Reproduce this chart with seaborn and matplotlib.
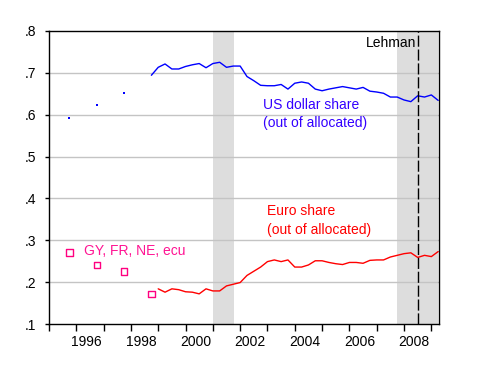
#!/usr/bin/env python3
"""Reserve currency shares: US dollar vs euro (out of allocated reserves)."""

import matplotlib
matplotlib.use("Agg")
import matplotlib.pyplot as plt
import numpy as np
import pandas as pd
import seaborn as sns

# annual observations before the quarterly series starts
ANNUAL_YEARS = [1995, 1996, 1997, 1998]
USD_ANNUAL = [0.592, 0.622, 0.652]
LEGACY_EURO_ANNUAL = [0.271, 0.241, 0.225, 0.172]  # GY, FR, NE, ecu

# quarterly series
USD_START = (1998, 4)
USD_Q = [
    0.694,
    0.713, 0.721, 0.709, 0.709,
    0.715, 0.719, 0.722, 0.712,
    0.722, 0.725, 0.713, 0.716,
    0.716, 0.691, 0.681, 0.670,
    0.669, 0.669, 0.672, 0.661,
    0.675, 0.678, 0.675, 0.661,
    0.657, 0.661, 0.664, 0.667,
    0.664, 0.661, 0.665, 0.656,
    0.654, 0.651, 0.642, 0.642,
    0.635, 0.631, 0.645, 0.642,
    0.647, 0.634,
]
EUR_START = (1999, 1)
EUR_Q = [
    0.184, 0.176, 0.184, 0.182,
    0.177, 0.176, 0.172, 0.184,
    0.179, 0.179, 0.191, 0.195,
    0.199, 0.216, 0.226, 0.236,
    0.249, 0.253, 0.249, 0.253,
    0.236, 0.236, 0.241, 0.251,
    0.251, 0.247, 0.244, 0.242,
    0.247, 0.247, 0.245, 0.252,
    0.253, 0.253, 0.260, 0.264,
    0.268, 0.270, 0.259, 0.264,
    0.261, 0.273,
]

RECESSIONS = [(2001.0, 2001.76), (2007.73, 2009.25)]
LEHMAN = 2008.5
Y_TICKS = [0.1, 0.2, 0.3, 0.4, 0.5, 0.6, 0.7, 0.8]
LABEL_YEARS = [1996, 1998, 2000, 2002, 2004, 2006, 2008]
X_MIN, X_MAX = 1995.0, 2009.27


def quarterly_frame(start, values):
    y0, q0 = start
    pos = [y0 + (q0 - 1 + i) / 4 for i in range(len(values))]
    return pd.DataFrame({"t": pos, "share": values})


def main():
    sns.set_theme(style="white")
    plt.rcParams["font.family"] = ["Liberation Sans", "DejaVu Sans"]

    usd = quarterly_frame(USD_START, USD_Q)
    eur = quarterly_frame(EUR_START, EUR_Q)
    usd_a = pd.DataFrame({"t": [y + 0.75 for y in ANNUAL_YEARS[:3]], "share": USD_ANNUAL})
    leg_a = pd.DataFrame({"t": [y + 0.75 for y in ANNUAL_YEARS], "share": LEGACY_EURO_ANNUAL})

    fig = plt.figure(figsize=(4.8, 3.72), dpi=100)
    ax = fig.add_axes([0.102, 0.129, 0.812, 0.788])

    for a, b in RECESSIONS:
        ax.axvspan(a, b, color="#dddddd", lw=0, zorder=0.2)
    for y in Y_TICKS[1:-1]:
        ax.axhline(y, color="#c4c4c4", lw=1.0, zorder=1)

    sns.lineplot(data=usd, x="t", y="share", color="#0000ff", lw=1, ax=ax, zorder=2)
    sns.lineplot(data=eur, x="t", y="share", color="#ff0000", lw=1, ax=ax, zorder=2)
    sns.scatterplot(data=usd_a, x="t", y="share", color="#0000ff", marker="s",
                    s=3, linewidth=0, ax=ax, zorder=2)
    sns.scatterplot(data=leg_a, x="t", y="share", marker="s", s=22,
                    facecolor="none", edgecolor="#ff0080", linewidth=1, ax=ax, zorder=2)

    ax.axvline(LEHMAN, color="black", lw=1, ls=(0, (8, 2)), zorder=3)

    ax.text(2008.43, 0.771, "Lehman", ha="right", va="center", fontsize=10, color="black")
    ax.text(2002.82, 0.602, "US dollar share\n(out of allocated)", ha="left", va="center",
            fontsize=10, color="#3300ff", linespacing=1.4)
    ax.text(2002.98, 0.347, "Euro share\n(out of allocated)", ha="left", va="center",
            fontsize=10, color="#ff0000", linespacing=1.4)
    ax.text(1996.28, 0.274, "GY, FR, NE, ecu", ha="left", va="center",
            fontsize=10, color="#ff1493")

    ax.set_xlim(X_MIN, X_MAX)
    ax.set_ylim(0.1, 0.8)
    ax.set_yticks(Y_TICKS)
    ax.set_yticklabels([f"{v:.1f}".lstrip("0") for v in Y_TICKS])
    ax.set_xticks(np.arange(1995, 2010), minor=True)
    ax.set_xticks([y + 0.37 for y in LABEL_YEARS])
    ax.set_xticklabels([str(y) for y in LABEL_YEARS])
    ax.tick_params(axis="x", which="major", length=0, pad=8, labelsize=10, colors="black")
    ax.tick_params(axis="x", which="minor", length=5, width=1, direction="out",
                   bottom=True, color="black")
    ax.tick_params(axis="y", length=3, width=1, direction="out", left=True,
                   pad=6, labelsize=10, colors="black")
    ax.set_xlabel("")
    ax.set_ylabel("")
    for s in ax.spines.values():
        s.set_color("black")
        s.set_linewidth(1)
        s.set_visible(True)

    fig.savefig("out.png", dpi=100)
    plt.close(fig)


if __name__ == "__main__":
    main()
